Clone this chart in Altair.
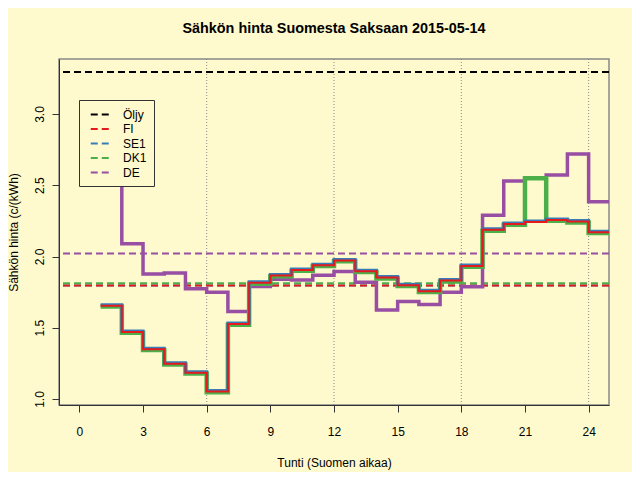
import altair as alt
import pandas as pd

# ---- data ----
hours = list(range(1, 25))
fi = [1.655, 1.470, 1.350, 1.247, 1.184, 1.053, 1.526, 1.815, 1.867, 1.906, 1.939, 1.972,
      1.897, 1.852, 1.799, 1.757, 1.831, 1.934, 2.187, 2.229, 2.243, 2.257, 2.245, 2.171]
se1 = [1.655, 1.470, 1.350, 1.247, 1.184, 1.053, 1.526, 1.815, 1.867, 1.906, 1.939, 1.972,
       1.897, 1.852, 1.799, 1.757, 1.831, 1.934, 2.187, 2.229, 2.243, 2.257, 2.245, 2.171]
dk1 = [1.655, 1.470, 1.350, 1.247, 1.184, 1.053, 1.526, 1.815, 1.867, 1.906, 1.939, 1.972,
       1.897, 1.852, 1.799, 1.757, 1.831, 1.934, 2.187, 2.229, 2.555, 2.257, 2.245, 2.171]
de = [2.900, 2.089, 1.878, 1.885, 1.773, 1.750, 1.614, 1.790, 1.841, 1.836, 1.869, 1.895,
      1.820, 1.624, 1.684, 1.663, 1.750, 1.787, 2.290, 2.530, 2.550, 2.572, 2.720, 2.385]

# horizontal reference lines (oil price and daily means)
ref_names = ["Öljy", "SE1", "FI", "DK1", "DE"]
ref_values = [3.295, 1.796, 1.796, 1.813, 2.021]

vline_hours = [6, 12, 18, 24]
x_ticks = [0, 3, 6, 9, 12, 15, 18, 21, 24]
y_ticks = [1.0, 1.5, 2.0, 2.5, 3.0]

legend_order = ["Öljy", "FI", "SE1", "DK1", "DE"]
legend_colors = ["#000000", "#e41a1c", "#377eb8", "#4daf4a", "#984ea3"]

FONT = "Liberation Sans"

# ---- tables ----
series = {"DE": de, "DK1": dk1, "SE1": se1, "FI": fi}
rows = []
for name, vals in series.items():
    ext_hours = hours + [hours[-1] + 1]
    ext_vals = vals + [vals[-1]]
    for h, v in zip(ext_hours, ext_vals):
        rows.append({"sarja": name, "tunti": h, "hinta": v})
lines_df = pd.DataFrame(rows)
ref_df = pd.DataFrame({"sarja": ref_names, "hinta": ref_values})
vline_df = pd.DataFrame({"tunti": vline_hours})

x_scale = alt.Scale(domain=[-0.96, 24.96], nice=False, zero=False)
y_scale = alt.Scale(domain=[0.958, 3.386], nice=False, zero=False)
color_scale = alt.Scale(domain=legend_order, range=legend_colors)

x_axis = alt.Axis(values=x_ticks, title="Tunti (Suomen aikaa)", grid=False,
                  tickSize=7, labelPadding=23, labelBaseline="alphabetic",
                  labelFontSize=12, titleFontSize=12, titleFontWeight="normal",
                  titleX=275, titleY=61, titleBaseline="alphabetic", titleAlign="center",
                  labelFlush=False, labelOverlap=False)
y_axis = alt.Axis(values=y_ticks, format=".1f", title="Sähkön hinta (c/(kWh)", grid=False,
                  tickSize=7, labelPadding=9, labelAngle=270, labelAlign="center",
                  labelBaseline="alphabetic", labelFontSize=12, titleFontSize=12,
                  titleFontWeight="normal", titleX=-42, titleY=173, titleAlign="center",
                  titleBaseline="alphabetic", labelFlush=False, labelOverlap=False)

legend = alt.Legend(title=None, orient="none", legendX=20, legendY=41,
                    strokeColor="#333333", fillColor="#fffacd", padding=7,
                    symbolType="M-1.5,0H1.5", symbolSize=169, symbolStrokeWidth=2,
                    symbolDash=[7, 4], symbolOffset=7, labelOffset=15,
                    rowPadding=0.5, labelFontSize=12, labelFont=FONT, labelColor="black")

X = alt.X("tunti:Q", scale=x_scale, axis=x_axis)
Y = alt.Y("hinta:Q", scale=y_scale, axis=y_axis)
C = alt.Color("sarja:N", scale=color_scale, legend=legend)

vlines = alt.Chart(vline_df).mark_rule(color="#888888", strokeDash=[1, 2], strokeWidth=1).encode(x=X)
hlines = alt.Chart(ref_df).mark_rule(strokeDash=[7, 4], strokeWidth=2).encode(y=Y, color=C)

styles = {"DE": (3.5, 0), "DK1": (4.5, 0.8), "SE1": (3, -1), "FI": (2, 0)}
layers = [vlines, hlines]
for name in ["DE", "DK1", "SE1", "FI"]:
    w, off = styles[name]
    layers.append(
        alt.Chart(lines_df).transform_filter(alt.datum.sarja == name)
        .mark_line(interpolate="step-after", strokeWidth=w, yOffset=off, clip=True,
                   strokeJoin="miter")
        .encode(x=X, y=Y, color=C)
    )

chart = alt.layer(*layers).properties(
    width=550, height=346,
    autosize=alt.AutoSizeParams(type="none"),
    padding={"left": 51, "top": 51, "right": 23, "bottom": 67},
    background="#fffacd",
    title=alt.TitleParams(text="Sähkön hinta Suomesta Saksaan 2015-05-14", font=FONT,
                          fontSize=14.4, fontWeight="bold", color="black", anchor="middle",
                          frame="group", offset=11, baseline="alphabetic"),
).configure_view(stroke="#888888", strokeWidth=1.5).configure_axis(
    labelFont=FONT, titleFont=FONT, labelColor="black", titleColor="black",
    domainColor="#333333", tickColor="#333333", domainWidth=1, tickWidth=1
)

chart.save("out.html", embed_options={"renderer": "svg", "actions": False})
